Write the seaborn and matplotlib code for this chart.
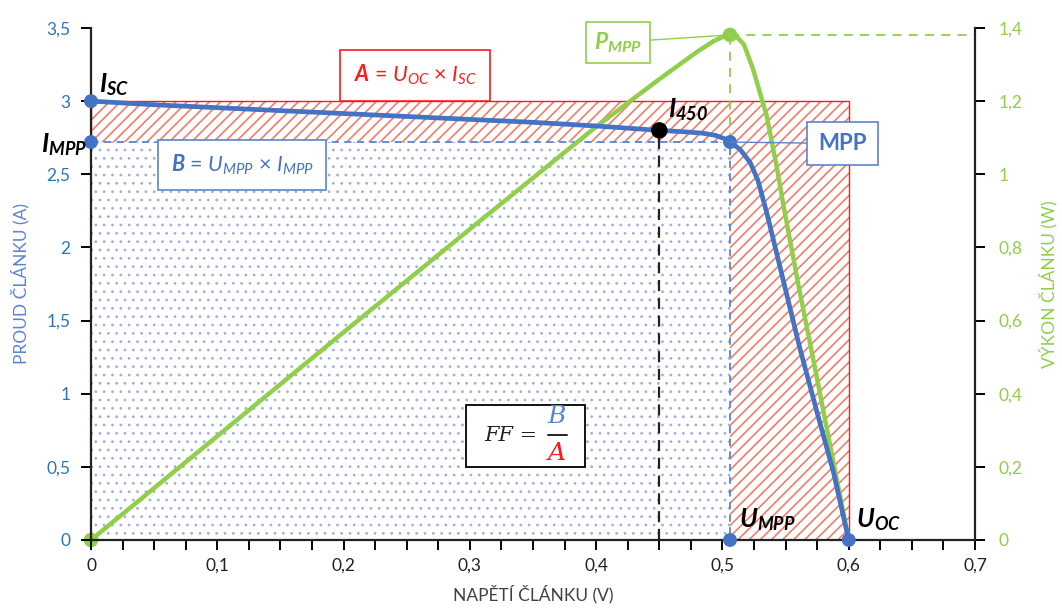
import matplotlib
matplotlib.use("Agg")
import matplotlib.pyplot as plt
import seaborn as sns
import pandas as pd
from matplotlib.patches import Rectangle
from matplotlib.ticker import MultipleLocator, FuncFormatter

# ---------------- data ----------------
voltage_iv = [0.0, 0.05, 0.1, 0.15, 0.2, 0.25, 0.3, 0.35, 0.4, 0.45, 0.47, 0.485,
              0.495, 0.501, 0.506, 0.514, 0.522, 0.528, 0.535, 0.548, 0.561, 0.575, 0.588, 0.6]
current_iv = [3.0, 2.975, 2.955, 2.935, 2.915, 2.895, 2.875, 2.855, 2.83, 2.80, 2.79, 2.78,
              2.765, 2.745, 2.72, 2.67, 2.58, 2.46, 2.24, 1.78, 1.32, 0.87, 0.46, 0.0]

voltage_p = [0.0, 0.1, 0.2, 0.3, 0.4, 0.45, 0.48, 0.493, 0.501, 0.506, 0.511, 0.517,
             0.524, 0.535, 0.543, 0.548, 0.56, 0.575, 0.588, 0.6]
power_p = [0.0, 0.284, 0.568, 0.85, 1.13, 1.26, 1.335, 1.364, 1.377, 1.381, 1.377, 1.355,
           1.29, 1.16, 1.02, 0.92, 0.70, 0.44, 0.21, 0.0]

i_sc = 3.0
u_oc = 0.6
u_mpp = 0.506
i_mpp = 2.72
p_mpp = 1.381
u_450 = 0.45
i_450 = 2.80

x_ticks = [0, 0.1, 0.2, 0.3, 0.4, 0.5, 0.6, 0.7]
left_ticks = [0, 0.5, 1, 1.5, 2, 2.5, 3, 3.5]
right_ticks = [0, 0.2, 0.4, 0.6, 0.8, 1.0, 1.2, 1.4]

x_label = "NAPĚTÍ ČLÁNKU (V)"
left_label = "PROUD ČLÁNKU (A)"
right_label = "VÝKON ČLÁNKU (W)"

# ---------------- style ----------------
BLUE = "#4472c4"
BLUE_TXT = "#2e75b6"
BLUE_LBL = "#5b84d0"
GREEN = "#8fcf4a"
RED = "#ff1a1a"
HATCH_RED = "#f47c68"
DOT_BLUE = "#a2afe0"

sns.set_theme(style="white")
plt.rcParams['font.family'] = ['Lato', 'DejaVu Sans']
plt.rcParams['mathtext.fontset'] = 'custom'
plt.rcParams['mathtext.rm'] = 'Lato'
plt.rcParams['mathtext.it'] = 'Lato:italic'
plt.rcParams['mathtext.bf'] = 'Lato:bold'
plt.rcParams['mathtext.bfit'] = 'Lato:italic:bold'
plt.rcParams['hatch.linewidth'] = 1.2

X_MAX = 0.7
I_MAX = 3.5
P_MAX = 1.4

fig = plt.figure(figsize=(10.62, 6.16), dpi=100)
ax = fig.add_axes([0.0857, 0.1234, 0.8324, 0.8312])
ax2 = ax.twinx()
ax.set_zorder(ax2.get_zorder() + 1)
ax.patch.set_visible(False)
ax2.patch.set_visible(True)
ax2.patch.set_facecolor("white")

ax.set_xlim(0, X_MAX)
ax.set_ylim(0, I_MAX)
ax2.set_ylim(0, P_MAX)
ax.set_autoscale_on(False)
ax2.set_autoscale_on(False)

# ---------- rectangles A and B (drawn on lower axes, in current units) ----------
rectA = Rectangle((0, 0), u_oc, i_sc, transform=ax.transData, facecolor="white",
                  edgecolor=HATCH_RED, hatch="///", linewidth=0, zorder=1)
ax2.add_patch(rectA)
rectA_edge = Rectangle((0, 0), u_oc, i_sc, transform=ax.transData, facecolor="none",
                       edgecolor=RED, linewidth=1.0, zorder=1.2)
ax2.add_patch(rectA_edge)
with plt.rc_context({'hatch.linewidth': 0.8}):
    rectB = Rectangle((0, 0), u_mpp, i_mpp, transform=ax.transData, facecolor="white",
                      edgecolor=DOT_BLUE, hatch="..", linewidth=0, zorder=1.5)
try:
    rectB.set_hatch_linewidth(0.8)
except Exception:
    pass
ax2.add_patch(rectB)
rectB_edge = Rectangle((0, 0), u_mpp, i_mpp, transform=ax.transData, facecolor="none",
                       edgecolor=BLUE_LBL, linewidth=1.3, linestyle=(0, (4, 3)), zorder=1.6)
ax2.add_patch(rectB_edge)

# ---------- power curve ----------
df_p = pd.DataFrame({"U": voltage_p, "P": power_p})
sns.lineplot(data=df_p, x="U", y="P", ax=ax2, color=GREEN, linewidth=3.2, sort=False,
             zorder=3, legend=False)
ax2.plot([u_mpp, X_MAX], [p_mpp, p_mpp], color=GREEN, lw=1.3, ls=(0, (5, 4)), zorder=2.5,
         clip_on=False)
sns.scatterplot(x=[0, u_mpp], y=[0, p_mpp], ax=ax2, color=GREEN, s=110, edgecolor="none",
                zorder=4, clip_on=False, legend=False)

# ---------- current curve ----------
ax.plot([u_mpp, u_mpp], [i_mpp, p_mpp / P_MAX * I_MAX], color=GREEN, lw=1.3,
        ls=(0, (5, 4)), zorder=2)
ax.plot([u_450, u_450], [0, i_450], color="#222222", lw=1.6, ls=(0, (5, 3)), zorder=2)

df_i = pd.DataFrame({"U": voltage_iv, "I": current_iv})
sns.lineplot(data=df_i, x="U", y="I", ax=ax, color=BLUE, linewidth=3.4, sort=False,
             zorder=3, legend=False)
sns.scatterplot(x=[0, 0, u_mpp, u_mpp, u_oc], y=[i_sc, i_mpp, i_mpp, 0, 0], ax=ax,
                color=BLUE, s=100, edgecolor="none", zorder=4, clip_on=False, legend=False)
sns.scatterplot(x=[u_450], y=[i_450], ax=ax, color="black", s=140, edgecolor="none",
                zorder=4, legend=False)

# ---------- annotations ----------
lbl_kw = dict(fontsize=18.5, color="black", zorder=6)
ax.text(0.006, 3.02, r"$\mathbfit{I}_{\mathbfit{SC}}$", ha="left", va="bottom", **lbl_kw)
ax.text(-0.003, i_mpp - 0.02, r"$\mathbfit{I}_{\mathbfit{MPP}}$", ha="right", va="center", **lbl_kw)
ax.text(0.457, 2.85, r"$\mathbfit{I}_{\mathbfit{450}}$", ha="left", va="bottom", **lbl_kw)
ax.text(0.513, 0.05, r"$\mathbfit{U}_{\mathbfit{MPP}}$", ha="left", va="bottom", **lbl_kw)
ax.text(0.606, 0.05, r"$\mathbfit{U}_{\mathbfit{OC}}$", ha="left", va="bottom", **lbl_kw)

ax.text(0.2565, 3.178, r"$\mathbfit{A}$ = $\mathit{U}_{\mathit{OC}}$ × $\mathit{I}_{\mathit{SC}}$",
        ha="center", va="center", fontsize=15.5, color=RED, zorder=6,
        bbox=dict(boxstyle="square,pad=0.62", facecolor="white", edgecolor=RED, lw=1.2))
ax.text(0.1195, 2.563, r"$\mathbfit{B}$ = $\mathit{U}_{\mathit{MPP}}$ × $\mathit{I}_{\mathit{MPP}}$",
        ha="center", va="center", fontsize=15.5, color=BLUE, zorder=6,
        bbox=dict(boxstyle="square,pad=0.6", facecolor="white", edgecolor=BLUE_LBL, lw=1.2))

ax.annotate("MPP", xy=(u_mpp, i_mpp), xytext=(0.595, i_mpp - 0.01), ha="center", va="center",
            fontsize=16, fontweight="bold", color=BLUE, zorder=6,
            bbox=dict(boxstyle="square,pad=0.5", facecolor="white", edgecolor=BLUE_LBL, lw=1.2),
            arrowprops=dict(arrowstyle="-", color=BLUE_LBL, lw=1.0, shrinkA=0, shrinkB=0))
ax2.annotate(r"$\mathbfit{P}_{\mathbfit{MPP}}$", xy=(u_mpp, p_mpp), xytext=(0.417, p_mpp - 0.02),
             ha="center", va="center", fontsize=16.5, color=GREEN, zorder=6,
             bbox=dict(boxstyle="square,pad=0.35", facecolor="white", edgecolor=GREEN, lw=1.2),
             arrowprops=dict(arrowstyle="-", color=GREEN, lw=1.0, shrinkA=0, shrinkB=0))

# FF = B / A box
ax.add_patch(Rectangle((0.2968, 0.499), 0.0942, 0.424, facecolor="white", edgecolor="black",
                       lw=1.3, zorder=5))
serif = ["DejaVu Serif"]
ax.text(0.3325, 0.711, "FF =", ha="center", va="center", fontsize=15, style="italic",
        family=serif, color="#222222", zorder=6)
ax.text(0.369, 0.845, "B", ha="center", va="center", fontsize=18, style="italic",
        family=serif, color=BLUE_LBL, zorder=6)
ax.text(0.369, 0.59, "A", ha="center", va="center", fontsize=18, style="italic",
        family=serif, color=RED, zorder=6)
ax.plot([0.362, 0.377], [0.716, 0.716], color="#222222", lw=1.4, zorder=6)

# ---------- axes formatting ----------
fmt = FuncFormatter(lambda v, p: f"{v:g}".replace(".", ","))
ax.set_xticks(x_ticks)
ax.xaxis.set_minor_locator(MultipleLocator(0.025))
ax.set_yticks(left_ticks)
ax2.set_yticks(right_ticks)
ax.xaxis.set_major_formatter(fmt)
ax.yaxis.set_major_formatter(fmt)
ax2.yaxis.set_major_formatter(fmt)

ax.tick_params(axis="x", which="both", bottom=True, direction="out", length=7, width=1.4,
               color="black", labelcolor="#222222", labelsize=12.5, pad=6)
ax.tick_params(axis="y", left=True, direction="out", length=7, width=1.4, color="black",
               labelcolor=BLUE_TXT, labelsize=12.5, pad=8)
ax2.tick_params(axis="y", right=True, direction="out", length=7, width=1.4, color="black",
                labelcolor=GREEN, labelsize=12.5, pad=10)

for a in (ax, ax2):
    for s in a.spines.values():
        s.set_visible(False)
ax.spines["left"].set_visible(True)
ax.spines["bottom"].set_visible(True)
ax2.spines["right"].set_visible(True)
for s in (ax.spines["left"], ax.spines["bottom"], ax2.spines["right"]):
    s.set_color("#222222")
    s.set_linewidth(1.6)

ax.set_xlabel(x_label, fontsize=12.5, color="#404040", labelpad=8)
ax.set_ylabel(left_label, fontsize=12.5, color=BLUE_LBL, labelpad=12)
ax2.set_ylabel(right_label, fontsize=12.5, color=GREEN, labelpad=12)

fig.savefig("out.png", dpi=100)
